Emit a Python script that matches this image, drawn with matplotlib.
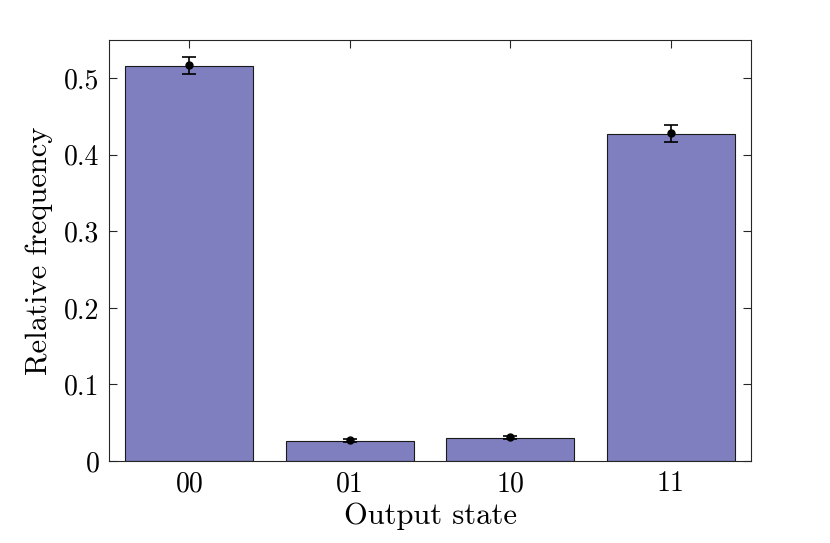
import matplotlib
matplotlib.use("Agg")
import matplotlib.pyplot as plt
import numpy as np

plt.rcParams['font.family'] = ['cmr10', 'DejaVu Serif']
plt.rcParams['axes.formatter.use_mathtext'] = True
plt.rcParams['mathtext.fontset'] = 'cm'

# data
states = ["00", "01", "10", "11"]
freq = [0.516, 0.026, 0.030, 0.427]
mean_pt = [0.517, 0.027, 0.031, 0.428]
err = [0.011, 0.002, 0.002, 0.011]

fig = plt.figure(figsize=(8.3, 5.43), dpi=100)
ax = fig.add_axes([109/830, 1-461/543, (751-109)/830, (461-40)/543])

x = np.arange(1, len(states)+1)
ax.bar(x, freq, width=0.8, color="#7f7fbf", edgecolor="#1a1a1a", linewidth=0.8, zorder=2)
ax.errorbar(x, mean_pt, yerr=err, fmt='o', color='black', markersize=5,
            capsize=5, elinewidth=1.2, capthick=1.2, zorder=3)

ax.set_xlim(0.5, 4.5)
ax.set_ylim(0, 0.55)
ax.set_xticks(x)
ax.set_xticklabels(states)
ax.set_yticks([0, 0.1, 0.2, 0.3, 0.4, 0.5])
ax.set_yticklabels(["0", "0.1", "0.2", "0.3", "0.4", "0.5"])
ax.tick_params(direction='in', top=True, right=True, length=6, width=0.8,
               color='#262626', labelsize=20, pad=7)
for s in ax.spines.values():
    s.set_color('#262626')
    s.set_linewidth(0.8)

ax.set_xlabel("Output state", fontsize=22, labelpad=4)
ax.set_ylabel("Relative frequency", fontsize=22, labelpad=8)

fig.savefig("out.png", dpi=100)
